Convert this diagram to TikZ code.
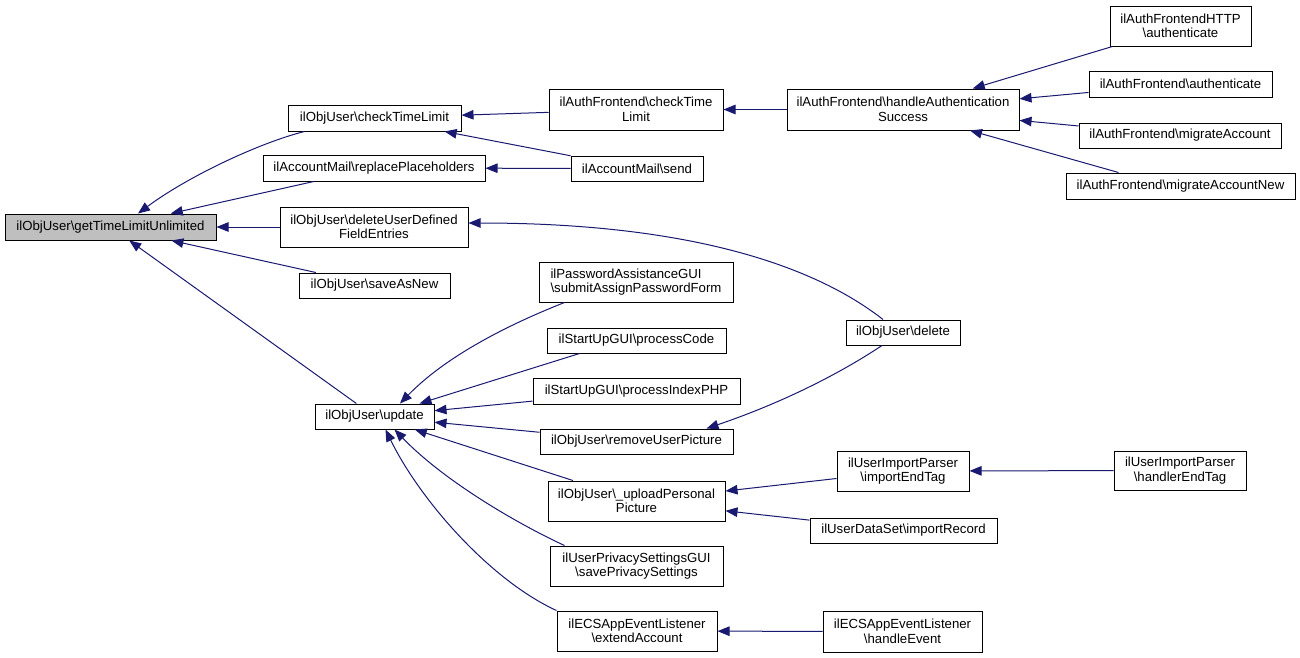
\documentclass[tikz,border=0pt]{standalone}
\usepackage{fontspec}
\setmainfont{Liberation Sans}
\usetikzlibrary{arrows.meta}
\definecolor{edgeblue}{HTML}{191970}
\definecolor{rootgray}{HTML}{BFBFBF}
\newcommand{\bs}{\textbackslash}
\tikzset{
  box/.style={draw=black, fill=white, line width=1pt, inner sep=0pt, align=center,
    font=\fontsize{13.2}{14.5}\selectfont},
  rootbox/.style={box, fill=rootgray},
  edge/.style={draw=edgeblue, line width=1pt, -{Triangle[length=12pt, width=9.5pt]}}
}
\begin{document}
\begin{tikzpicture}[x=1pt, y=-1pt]
\useasboundingbox (0,0) rectangle (1300,657);
% column 1
\node[rootbox, minimum width=211pt, minimum height=26pt] (gtlu) at (110.5,227) {ilObjUser\bs getTimeLimitUnlimited};
% column 2
\node[box, minimum width=173pt, minimum height=26pt] (ctl) at (374.5,118) {ilObjUser\bs checkTimeLimit};
\node[box, minimum width=222pt, minimum height=26pt] (rph) at (374,168) {ilAccountMail\bs replacePlaceholders};
\node[box, minimum width=188pt, minimum height=40pt] (dudfe) at (374,227) {ilObjUser\bs deleteUserDefined\\FieldEntries};
\node[box, minimum width=151pt, minimum height=25pt] (san) at (374.5,285.5) {ilObjUser\bs saveAsNew};
\node[box, minimum width=119pt, minimum height=25pt] (upd) at (374.5,416.5) {ilObjUser\bs update};
% column 3
\node[box, minimum width=174pt, minimum height=41pt] (afctl) at (636,109.5) {ilAuthFrontend\bs checkTime\\Limit};
\node[box, minimum width=132pt, minimum height=25pt] (amsend) at (637,168.5) {ilAccountMail\bs send};
\node[box, minimum width=194pt, minimum height=40pt, align=left] (pag) at (636,282) {ilPasswordAssistanceGUI\\\bs submitAssignPasswordForm};
\node[box, minimum width=179pt, minimum height=25pt] (pc) at (636.5,340.5) {ilStartUpGUI\bs processCode};
\node[box, minimum width=207pt, minimum height=26pt] (pip) at (636.5,391) {ilStartUpGUI\bs processIndexPHP};
\node[box, minimum width=193pt, minimum height=25pt] (rup) at (636.5,441.5) {ilObjUser\bs removeUserPicture};
\node[box, minimum width=177pt, minimum height=40pt] (upp) at (636.5,501) {ilObjUser\bs \_uploadPersonal\\Picture};
\node[box, minimum width=173pt, minimum height=40pt] (ups) at (636.5,566) {ilUserPrivacySettingsGUI\\\bs savePrivacySettings};
\node[box, minimum width=160pt, minimum height=40pt] (ext) at (637,631) {ilECSAppEventListener\\\bs extendAccount};
% column 4
\node[box, minimum width=232pt, minimum height=41pt] (has) at (903,109.5) {ilAuthFrontend\bs handleAuthentication\\Success};
\node[box, minimum width=114pt, minimum height=25pt] (del) at (903,332.5) {ilObjUser\bs delete};
\node[box, minimum width=132pt, minimum height=40pt] (iet) at (903,471) {ilUserImportParser\\\bs importEndTag};
\node[box, minimum width=187pt, minimum height=25pt] (irec) at (903.5,530.5) {ilUserDataSet\bs importRecord};
\node[box, minimum width=159pt, minimum height=41pt] (he) at (902.5,631.5) {ilECSAppEventListener\\\bs handleEvent};
% column 5
\node[box, minimum width=141pt, minimum height=40pt] (httpauth) at (1180.5,26) {ilAuthFrontendHTTP\\\bs authenticate};
\node[box, minimum width=183pt, minimum height=26pt] (auth) at (1180.5,84) {ilAuthFrontend\bs authenticate};
\node[box, minimum width=202pt, minimum height=25pt] (migr) at (1180,135.5) {ilAuthFrontend\bs migrateAccount};
\node[box, minimum width=229pt, minimum height=26pt] (migrnew) at (1180.5,186) {ilAuthFrontend\bs migrateAccountNew};
\node[box, minimum width=132pt, minimum height=39pt] (het) at (1180,470.5) {ilUserImportParser\\\bs handlerEndTag};
% edges into gtlu
\draw[edge] ([xshift=17pt]ctl.south west) .. controls (262,142) and (190,175) .. ([xshift=27.5pt]gtlu.north);
\draw[edge] (rph) -- (gtlu);
\draw[edge] (dudfe) -- (gtlu);
\draw[edge] (san) -- (gtlu);
\draw[edge] (upd) -- (gtlu);
% edges into ctl, rph
\draw[edge] (afctl) -- (ctl);
\draw[edge] (amsend) -- (ctl);
\draw[edge] (amsend) -- (rph);
% edges into afctl, has
\draw[edge] (has) -- (afctl);
\draw[edge] (httpauth) -- (has);
\draw[edge] (auth) -- (has);
\draw[edge] (migr) -- (has);
\draw[edge] ([xshift=-62pt]migrnew.north) -- ([xshift=67pt]has.south);
% delete
\draw[edge] ([xshift=-20pt]del.north) .. controls (820,270) and (700,223) .. ([yshift=4pt]dudfe.east);
\draw[edge] ([xshift=-21pt]del.south) .. controls (830,380) and (770,407) .. ([xshift=-27pt]rup.north east);
% edges into upd
\draw[edge] ([xshift=26pt]pag.south west) .. controls (520,320) and (450,352) .. ([xshift=25.5pt]upd.north);
\draw[edge] ([xshift=33pt]pc.south west) -- ([xshift=45pt]upd.north);
\draw[edge] (pip) -- (upd);
\draw[edge] (rup) -- (upd);
\draw[edge] (upp) -- (upd);
\draw[edge] ([xshift=15pt]ups.north west) .. controls (520,525) and (445,482) .. ([xshift=20pt]upd.south);
\draw[edge] (ext.north west) .. controls (490,580) and (420,500) .. ([xshift=11pt]upd.south);
% edges into upp, iet, ext
\draw[edge] (iet) -- (upp);
\draw[edge] (irec) -- (upp);
\draw[edge] (het) -- (iet);
\draw[edge] (he) -- (ext);
\end{tikzpicture}
\end{document}
